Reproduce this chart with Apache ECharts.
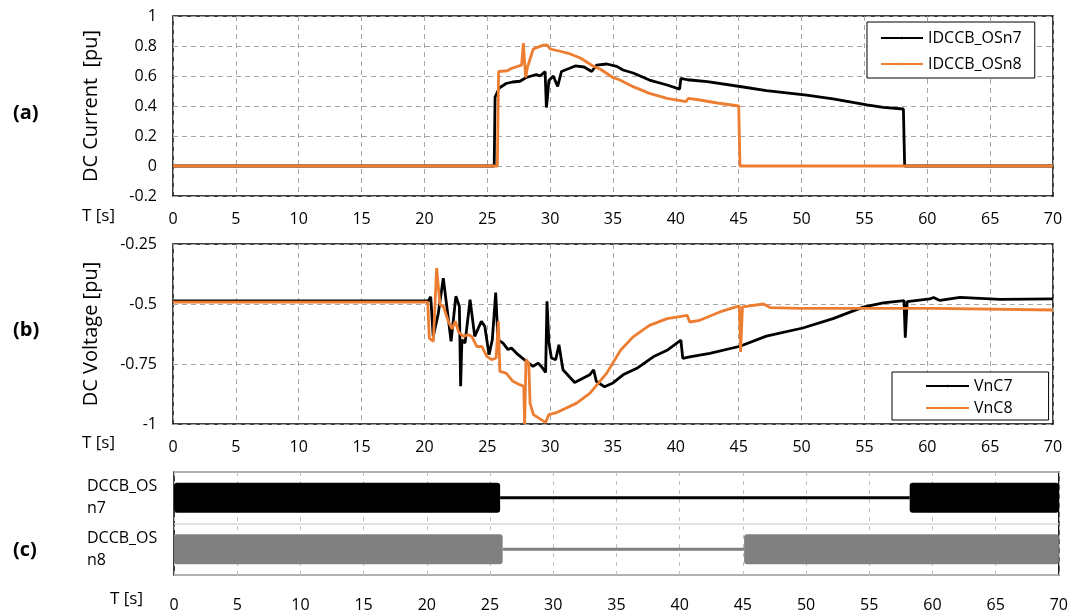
<!DOCTYPE html>
<html>
<head>
<meta charset="utf-8">
<script src="https://cdn.jsdelivr.net/npm/echarts@6/dist/echarts.min.js"></script>
<style>
  html, body { margin: 0; padding: 0; background: #fff; }
  #chart { width: 1071px; height: 614px; }
</style>
</head>
<body>
<div id="chart"></div>
<script>
// ---- shared time axis ----
const timeTicks = { min: 0, max: 70, interval: 5 };

// ---- (a) DC current through the breakers [pu] ----
const tI7 = [0, 25.55, 25.62, 25.95, 26.5, 27.0, 27.6, 28.1, 28.5, 28.9, 29.2, 29.6, 29.7, 29.78, 29.9, 30.25, 30.6, 30.9, 31.5, 32.0, 32.7, 33.3, 33.7, 34.5, 35.3, 35.8, 36.6, 37.9, 39.3, 40.3, 40.4, 40.9, 42.5, 45.1, 47.2, 50.4, 52.5, 55.2, 56.5, 58.1, 58.2, 70];
const I7  = [0, 0, 0.46, 0.52, 0.55, 0.56, 0.565, 0.59, 0.6, 0.61, 0.6, 0.63, 0.39, 0.45, 0.57, 0.6, 0.53, 0.63, 0.65, 0.667, 0.66, 0.63, 0.673, 0.68, 0.664, 0.64, 0.62, 0.573, 0.54, 0.513, 0.584, 0.575, 0.562, 0.53, 0.502, 0.473, 0.447, 0.407, 0.391, 0.38, 0, 0];
const tI8 = [0, 25.8, 25.9, 26.6, 26.9, 27.73, 27.87, 28.05, 28.2, 28.66, 29.46, 29.75, 30.0, 30.8, 31.6, 32.4, 33.4, 34.0, 35.0, 35.55, 36.6, 37.9, 39.3, 40.6, 40.8, 41.0, 41.9, 43.3, 45.0, 45.1, 70];
const I8  = [0, 0, 0.63, 0.635, 0.65, 0.673, 0.82, 0.59, 0.66, 0.78, 0.806, 0.807, 0.78, 0.765, 0.747, 0.72, 0.667, 0.645, 0.59, 0.573, 0.529, 0.484, 0.451, 0.433, 0.429, 0.451, 0.44, 0.42, 0.4, 0, 0];

// ---- (b) DC voltage at the converters [pu] ----
const tV7 = [0, 20.3, 20.5, 20.7, 21.1, 21.5, 21.78, 22.12, 22.5, 22.78, 22.88, 22.98, 23.23, 23.63, 24.0, 24.53, 24.8, 25.14, 25.4, 25.67, 25.85, 26.25, 26.65, 26.92, 27.45, 28.11, 28.64, 29.04, 29.3, 29.64, 29.75, 29.9, 30.1, 30.44, 30.7, 31.02, 31.95, 33.15, 33.46, 33.67, 34.33, 35.0, 35.8, 36.9, 38.2, 39.3, 40.4, 40.55, 41.1, 42.7, 45.1, 47.2, 50.1, 52.5, 54.9, 56.5, 58.15, 58.25, 58.4, 60.2, 60.5, 61.0, 62.6, 65.8, 70];
const V7  = [-0.487, -0.487, -0.47, -0.635, -0.54, -0.392, -0.51, -0.656, -0.468, -0.51, -0.843, -0.649, -0.663, -0.482, -0.635, -0.572, -0.593, -0.711, -0.649, -0.452, -0.649, -0.663, -0.69, -0.683, -0.711, -0.739, -0.76, -0.746, -0.76, -0.785, -0.489, -0.66, -0.725, -0.732, -0.67, -0.774, -0.827, -0.795, -0.774, -0.822, -0.845, -0.829, -0.795, -0.768, -0.72, -0.693, -0.651, -0.727, -0.72, -0.706, -0.676, -0.634, -0.6, -0.561, -0.513, -0.495, -0.486, -0.64, -0.49, -0.479, -0.473, -0.485, -0.472, -0.481, -0.479];
const tV8 = [0, 20.26, 20.39, 20.71, 20.97, 21.24, 21.51, 21.9, 22.2, 22.46, 22.73, 23.1, 23.5, 23.76, 24.16, 24.56, 24.96, 25.35, 25.7, 25.88, 26.0, 26.5, 27.04, 27.57, 27.9, 27.97, 28.08, 28.3, 28.4, 28.67, 29.63, 29.9, 30.44, 32.11, 33.17, 34.5, 35.6, 36.6, 37.9, 39.3, 40.9, 41.1, 41.9, 43.5, 45.05, 45.15, 45.3, 46.97, 47.5, 49.9, 60.5, 70];
const V8  = [-0.492, -0.492, -0.642, -0.656, -0.35, -0.503, -0.51, -0.572, -0.604, -0.572, -0.618, -0.635, -0.628, -0.635, -0.677, -0.677, -0.718, -0.732, -0.725, -0.572, -0.781, -0.788, -0.822, -0.836, -0.843, -1.0, -0.732, -0.746, -0.913, -0.961, -0.993, -0.961, -0.954, -0.913, -0.871, -0.788, -0.693, -0.637, -0.589, -0.561, -0.547, -0.575, -0.568, -0.533, -0.508, -0.7, -0.512, -0.5, -0.515, -0.518, -0.518, -0.525];

// ---- (c) breaker state: [start, end, closed?] ----
const breakers = ['DCCB_OSn7', 'DCCB_OSn8'];
const n7States = [[0, 25.8, 1], [25.8, 58.2, 0], [58.2, 70, 1]];
const n8States = [[0, 26.0, 1], [26.0, 45.1, 0], [45.1, 70, 1]];

// tick values on the vertical axes
const currentTicks = { min: -0.2, max: 1, interval: 0.2 };
const voltageTicks = { min: -1, max: -0.25, interval: 0.25 };

const FONT = 'Open Sans';
const zip = (t, v) => t.map((x, i) => [x, v[i]]);

const dashGrid = { show: true, lineStyle: { color: '#a6a6a6', width: 1, type: [5, 4] } };
const tickText = { color: '#000', fontFamily: FONT, fontSize: 16 };
const legendText = { color: '#000', fontFamily: FONT, fontSize: 16, lineHeight: 20 };

function timeAxis(gridIndex, margin, split) {
  return {
    type: 'value', gridIndex, min: timeTicks.min, max: timeTicks.max, interval: timeTicks.interval,
    axisLine: { show: false }, axisTick: { show: false },
    axisLabel: Object.assign({ margin }, tickText),
    splitLine: split
  };
}

// one breaker-state segment: thick bar while closed, thin line while open
function breakerRender(color) {
  return function (params, api) {
    const cat = api.value(0);
    const s = api.coord([api.value(1), cat]);
    const e = api.coord([api.value(2), cat]);
    const band = api.size([0, 1])[1];
    const closed = api.value(3) === 1;
    const h = closed ? band * 0.58 : 3;
    return {
      type: 'rect',
      shape: { x: s[0], y: s[1] - h / 2, width: e[0] - s[0], height: h, r: closed ? 3 : 0 },
      style: { fill: color }
    };
  };
}

const chart = echarts.init(document.getElementById('chart'), null, { renderer: 'canvas' });
chart.setOption({
  animation: false,
  backgroundColor: '#fff',
  textStyle: { fontFamily: FONT },
  grid: [
    { left: 173, right: 18, top: 16, height: 180, show: true, borderColor: '#000', borderWidth: 1.5, backgroundColor: 'transparent' },
    { left: 173, right: 18, top: 244, height: 180, show: true, borderColor: '#000', borderWidth: 1.5, backgroundColor: 'transparent' },
    { left: 174, right: 12, top: 472, height: 103, show: true, borderColor: '#000', borderWidth: 1.5, backgroundColor: 'transparent' }
  ],
  xAxis: [
    timeAxis(0, 15, dashGrid),
    timeAxis(1, 15, dashGrid),
    timeAxis(2, 22, { show: true, lineStyle: { color: '#bfbfbf', width: 1, type: [4, 5] } })
  ],
  yAxis: [
    {
      type: 'value', gridIndex: 0, min: currentTicks.min, max: currentTicks.max, interval: currentTicks.interval,
      name: 'DC Current  [pu]', nameLocation: 'middle', nameGap: 72,
      nameTextStyle: { color: '#000', fontFamily: FONT, fontSize: 20 },
      axisLine: { show: false }, axisTick: { show: false },
      axisLabel: Object.assign({ margin: 16 }, tickText),
      splitLine: dashGrid
    },
    {
      type: 'value', gridIndex: 1, min: voltageTicks.min, max: voltageTicks.max, interval: voltageTicks.interval,
      name: 'DC Voltage [pu]', nameLocation: 'middle', nameGap: 72,
      nameTextStyle: { color: '#000', fontFamily: FONT, fontSize: 20 },
      axisLine: { show: false }, axisTick: { show: false },
      axisLabel: Object.assign({ margin: 16 }, tickText),
      splitLine: dashGrid
    },
    {
      type: 'category', gridIndex: 2, data: breakers, inverse: true,
      axisLine: { show: false }, axisTick: { show: false },
      axisLabel: {
        color: '#000', fontFamily: FONT, fontSize: 16, lineHeight: 22, align: 'left', margin: 87,
        formatter: v => v.replace('OS', 'OS\n')
      },
      splitLine: { show: true, lineStyle: { color: '#d9d9d9', width: 1.5 } }
    }
  ],
  legend: [
    {
      data: ['IDCCB_OSn7', 'IDCCB_OSn8'], orient: 'vertical', left: 867, top: 22,
      itemWidth: 42, itemHeight: 3, itemGap: 6, padding: [6, 13, 4, 13],
      borderColor: '#000', borderWidth: 1, backgroundColor: '#fff',
      textStyle: legendText
    },
    {
      data: ['VnC7', 'VnC8'], orient: 'vertical', left: 892, top: 372,
      itemWidth: 43, itemHeight: 3, itemGap: 2, padding: [4, 36, 2, 33],
      borderColor: '#000', borderWidth: 1, backgroundColor: '#fff',
      textStyle: legendText
    }
  ],
  graphic: [
    { type: 'text', left: 13, top: 103, style: { text: '(a)', font: `bold 20px "${FONT}"`, fill: '#000' } },
    { type: 'text', left: 13, top: 320, style: { text: '(b)', font: `bold 20px "${FONT}"`, fill: '#000' } },
    { type: 'text', left: 13, top: 540, style: { text: '(c)', font: `bold 20px "${FONT}"`, fill: '#000' } },
    { type: 'text', left: 82, top: 208, style: { text: 'T [s]', font: `17px "${FONT}"`, fill: '#000' } },
    { type: 'text', left: 82, top: 435, style: { text: 'T [s]', font: `17px "${FONT}"`, fill: '#000' } },
    { type: 'text', left: 110, top: 591, style: { text: 'T [s]', font: `17px "${FONT}"`, fill: '#000' } }
  ],
  series: [
    { name: 'IDCCB_OSn7', type: 'line', xAxisIndex: 0, yAxisIndex: 0, data: zip(tI7, I7), symbol: 'none', color: '#000', lineStyle: { width: 2.8, color: '#000' } },
    { name: 'IDCCB_OSn8', type: 'line', xAxisIndex: 0, yAxisIndex: 0, data: zip(tI8, I8), symbol: 'none', color: '#ed7d31', lineStyle: { width: 2.8, color: '#ed7d31' } },
    { name: 'VnC7', type: 'line', xAxisIndex: 1, yAxisIndex: 1, data: zip(tV7, V7), symbol: 'none', color: '#000', lineStyle: { width: 2.8, color: '#000' } },
    { name: 'VnC8', type: 'line', xAxisIndex: 1, yAxisIndex: 1, data: zip(tV8, V8), symbol: 'none', color: '#ed7d31', lineStyle: { width: 2.8, color: '#ed7d31' } },
    {
      type: 'custom', xAxisIndex: 2, yAxisIndex: 2, renderItem: breakerRender('#000'),
      encode: { x: [1, 2], y: 0 }, data: n7States.map(s => [0, s[0], s[1], s[2]])
    },
    {
      type: 'custom', xAxisIndex: 2, yAxisIndex: 2, renderItem: breakerRender('#808080'),
      encode: { x: [1, 2], y: 0 }, data: n8States.map(s => [1, s[0], s[1], s[2]])
    }
  ]
});
</script>
</body>
</html>
